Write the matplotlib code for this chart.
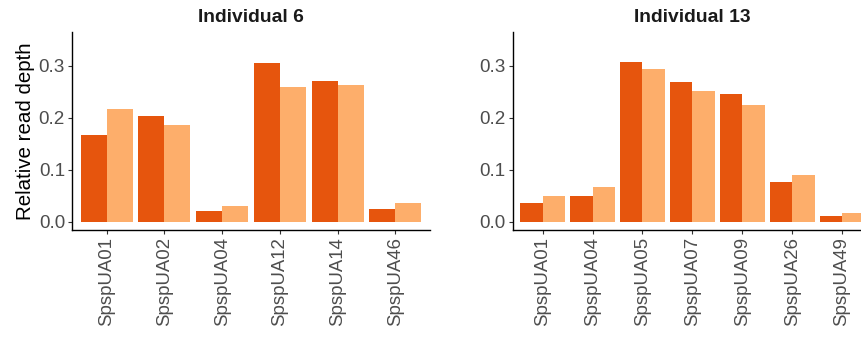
import numpy as np
import matplotlib.pyplot as plt

plt.rcParams['font.family'] = ['Liberation Sans', 'DejaVu Sans']

# relative read depth per locus, two runs per individual
ind6_loci = ['SpspUA01', 'SpspUA02', 'SpspUA04', 'SpspUA12', 'SpspUA14', 'SpspUA46']
ind6_run1 = [0.167, 0.204, 0.021, 0.306, 0.271, 0.025]
ind6_run2 = [0.217, 0.187, 0.031, 0.260, 0.263, 0.037]

ind13_loci = ['SpspUA01', 'SpspUA04', 'SpspUA05', 'SpspUA07', 'SpspUA09', 'SpspUA26', 'SpspUA49']
ind13_run1 = [0.037, 0.050, 0.308, 0.269, 0.246, 0.077, 0.012]
ind13_run2 = [0.050, 0.067, 0.294, 0.252, 0.225, 0.090, 0.017]

dark = '#E6550D'
light = '#FDAE6B'
grey = '#4D4D4D'


def panel(ax, title, loci, run1, run2):
    x = np.arange(len(loci))
    w = 0.45
    ax.bar(x - w / 2, run1, width=w, color=dark)
    ax.bar(x + w / 2, run2, width=w, color=light)
    ax.set_xlim(-0.6, len(loci) - 1 + 0.6)
    ax.set_ylim(-0.0154, 0.365)
    ax.set_xticks(x)
    ax.set_xticklabels(loci, rotation=90, fontsize=13.4, color=grey)
    ax.set_yticks([0.0, 0.1, 0.2, 0.3])
    ax.set_yticklabels(['0.0', '0.1', '0.2', '0.3'], fontsize=13.6, color=grey)
    ax.tick_params(length=3, width=0.8, color='#333333', pad=2)
    for s in ['top', 'right']:
        ax.spines[s].set_visible(False)
    for s in ['left', 'bottom']:
        ax.spines[s].set_linewidth(1.0)
        ax.spines[s].set_color('black')
    ax.set_title(title, fontsize=13.9, fontweight='bold', color='#1A1A1A', pad=7)


fig = plt.figure(figsize=(8.62, 3.4), dpi=100)
ax1 = fig.add_axes([72 / 862, 110 / 340, 358 / 862, 198 / 340])
ax2 = fig.add_axes([512.7 / 862, 110 / 340, 359.3 / 862, 198 / 340])

panel(ax1, 'Individual 6', ind6_loci, ind6_run1, ind6_run2)
panel(ax2, 'Individual 13', ind13_loci, ind13_run1, ind13_run2)
ax1.set_ylabel('Relative read depth', fontsize=14.8, labelpad=3)

fig.savefig('out.png', dpi=100)
